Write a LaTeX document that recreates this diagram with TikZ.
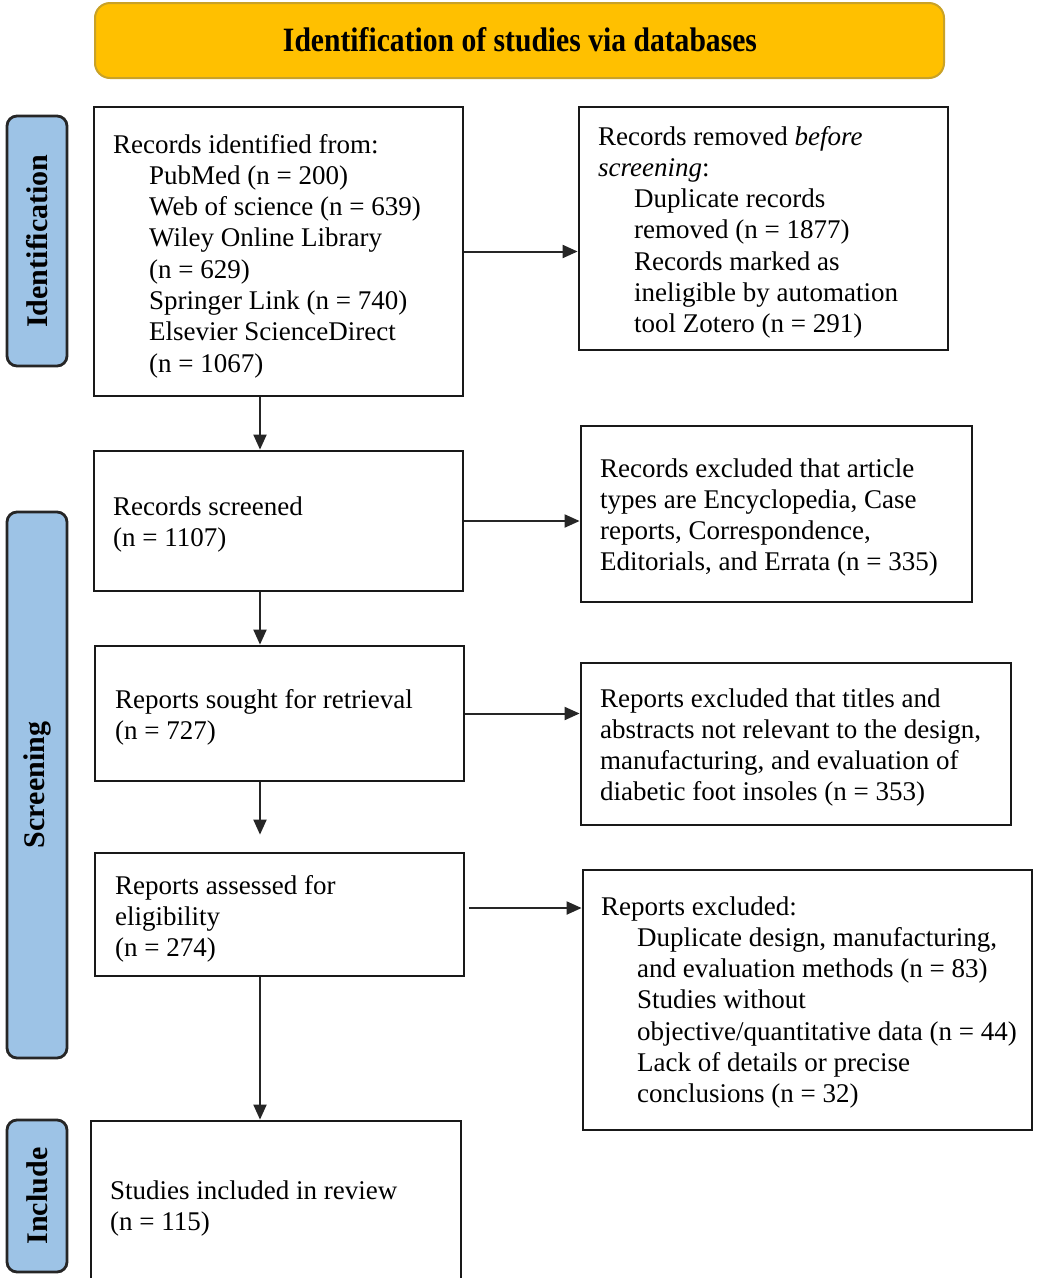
\documentclass[tikz,border=0pt]{standalone}
\usepackage{fontspec}
\usepackage{graphicx}
\setmainfont{Liberation Serif}
\usetikzlibrary{arrows.meta}
\definecolor{gold}{HTML}{FFC000}
\definecolor{goldline}{HTML}{C9A227}
\definecolor{sideblue}{HTML}{9DC3E6}
\definecolor{sideline}{HTML}{262626}
\newcommand\myind{\hspace*{36pt}}
\begin{document}
\begin{tikzpicture}[x=1pt,y=-1pt]
\tikzset{
 box/.style={draw=black!90, line width=2.8pt, inner sep=0pt, fill=white},
 txt/.style={anchor=base west, inner sep=0pt, align=left, font=\fontsize{27}{31.3}\selectfont},
 side/.style={draw=sideline, fill=sideblue, line width=2.8pt, rounded corners=10pt, rotate=90, inner sep=0pt, minimum height=60pt, font=\fontsize{30}{36}\selectfont\bfseries},
 banner/.style={draw=goldline, fill=gold, line width=2pt, rounded corners=15pt, inner sep=0pt},
 arr/.style={draw=black!85, line width=2pt, -{Triangle[length=15pt,width=13pt]}},
}
\useasboundingbox (0,0) rectangle (1045,1278);
\clip (0,0) rectangle (1045,1278);
\fill[white] (0,0) rectangle (1045,1278);

% banner
\node[banner, minimum width=849pt, minimum height=75pt] (ban) at (519.5,40.5) {};
\node (title) at (520,40) {\resizebox{474pt}{24pt}{\bfseries Identification of studies via databases}};

% side labels
\node[side, minimum width=250pt] (sid) at (37,241) {Identification};
\node[side, minimum width=546pt] (ssc) at (37,785) {Screening};
\node[side, minimum width=152pt] (sin) at (37,1196) {Include};

% boxes
\node[box, minimum width=369pt, minimum height=289pt] (b1) at (278.5,251.5) {};
\node[box, minimum width=369pt, minimum height=243pt] (r1) at (763.5,228.5) {};
\node[box, minimum width=369pt, minimum height=140pt] (b2) at (278.5,521) {};
\node[box, minimum width=391pt, minimum height=176pt] (r2) at (776.5,514) {};
\node[box, minimum width=369pt, minimum height=135pt] (b3) at (279.5,713.5) {};
\node[box, minimum width=430pt, minimum height=162pt] (r3) at (796,744) {};
\node[box, minimum width=369pt, minimum height=123pt] (b4) at (279.5,914.5) {};
\node[box, minimum width=449pt, minimum height=260pt] (r4) at (807.5,1000) {};
\node[box, minimum width=370pt, minimum height=179pt] (b5) at (276,1210.5) {};

% texts (anchor = baseline of the last line)
\node[txt] (t1) at (113,372.1) {Records identified from:\\
\myind PubMed (n = 200)\\
\myind Web of science (n = 639)\\
\myind Wiley Online Library\\
\myind (n = 629)\\
\myind Springer Link (n = 740)\\
\myind Elsevier ScienceDirect\\
\myind (n = 1067)};
\node[txt] (u1) at (598,332.8) {Records removed \textit{before}\\
\textit{screening}:\\
\myind Duplicate records\\
\myind removed (n = 1877)\\
\myind Records marked as\\
\myind ineligible by automation\\
\myind tool Zotero (n = 291)};
\node[txt] (t2) at (113,546.3) {Records screened\\(n = 1107)};
\node[txt] (u2) at (600,570.9) {Records excluded that article\\
types are Encyclopedia, Case\\
reports, Correspondence,\\
Editorials, and Errata (n = 335)};
\node[txt] (t3) at (115,739.3) {Reports sought for retrieval\\(n = 727)};
\node[txt] (u3) at (600,800.9) {Reports excluded that titles and\\
abstracts not relevant to the design,\\
manufacturing, and evaluation of\\
diabetic foot insoles (n = 353)};
\node[txt] (t4) at (115,956.6) {Reports assessed for\\eligibility\\(n = 274)};
\node[txt] (u4) at (601,1102.8) {Reports excluded:\\
\myind Duplicate design, manufacturing,\\
\myind and evaluation methods (n = 83)\\
\myind Studies without\\
\myind objective/quantitative data (n = 44)\\
\myind Lack of details or precise\\
\myind conclusions (n = 32)};
\node[txt] (t5) at (110,1230.3) {Studies included in review\\(n = 115)};

% connectors
\coordinate (vx) at (260,0);
\draw[arr] (b1.south -| vx) -- (b2.north -| vx);
\draw[arr] (b2.south -| vx) -- (b3.north -| vx);
\draw[arr, shorten >=17pt] (b3.south -| vx) -- (b4.north -| vx);
\draw[arr] (b4.south -| vx) -- (b5.north -| vx);
\draw[arr] (b1.east) -- (b1.east -| r1.west);
\draw[arr] (b2.east) -- (b2.east -| r2.west);
\draw[arr] (b3.east) -- (b3.east -| r3.west);
\draw[arr, shorten <=4pt] ([yshift=6.5pt]b4.east) -- ([yshift=6.5pt]b4.east -| r4.west);
\end{tikzpicture}
\end{document}
